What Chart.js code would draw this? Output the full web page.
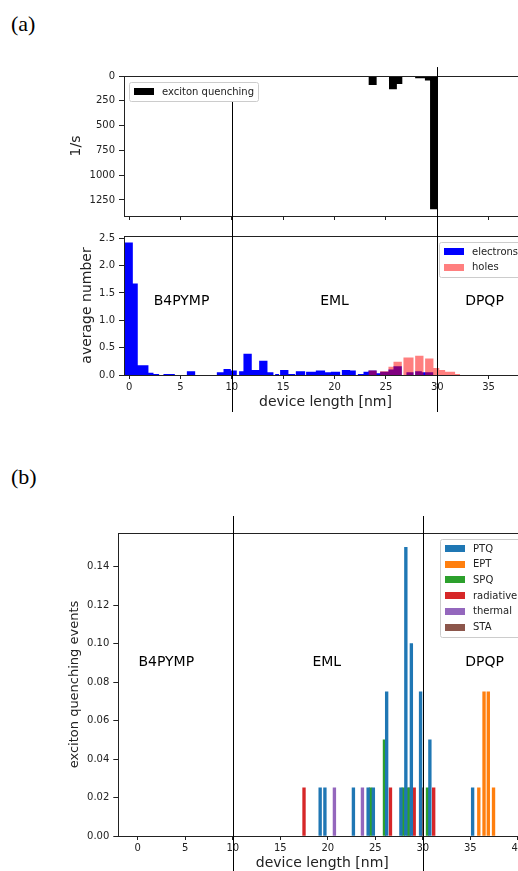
<!DOCTYPE html>
<html>
<head>
<meta charset="utf-8">
<script src="https://cdn.jsdelivr.net/npm/chart.js@4.4.1/dist/chart.umd.min.js"></script>
<style>
    html, body { margin: 0; padding: 0; background: #fff; overflow: hidden; width: 518px; height: 871px; }
    body { position: relative; }
    canvas { position: absolute; left: 0; }
    .panel_label { position: absolute; left: 11px; font: 22px "Liberation Serif", serif; line-height: 1; color: #000; }
</style>
</head>
<body>
<div class="panel_label" style="top: 13px">(a)</div>
<canvas id="quenching_rate" width="540" height="166" style="top: 60px"></canvas>
<canvas id="carrier_number" width="540" height="186" style="top: 226px"></canvas>
<div class="panel_label" style="top: 466px">(b)</div>
<canvas id="quenching_events" width="540" height="357" style="top: 516px"></canvas>
<script>

// layer boundaries and names [nm]
const layer_bounds = [10, 30]
const layer_names = ["B4PYMP", "EML", "DPQP"]

// (a) top: exciton quenching rate per slab [1/s]
const quench_left  = [23.3, 25.3, 26.07, 26.9, 27.85, 28.8, 29.3, 30.2]
const quench_right = [24.1, 26.07, 26.6, 27.85, 28.8, 29.3, 30.05, 31.26]
const quench_rate  = [90, 133, 80, 10, 22, 45, 1345, 6]

// (a) bottom: average number of electrons / holes per slab
const electron_left = [-0.49, 0.36, 0.84, 1.88, 2.37, 3.34, 5.62, 8.54, 9.19, 9.9, 10.71, 11.13, 11.94, 12.66,
    13.47, 14.22, 14.7, 15.51, 16.23, 17.23, 18.18, 19.08, 19.64, 20.71, 21.52, 22.27, 22.82, 23.3, 24.1, 24.44,
    25.25, 25.74, 27.0, 27.85, 28.5, 29.0]
const electron_right = [0.36, 0.84, 1.88, 2.37, 2.92, 4.45, 6.43, 9.19, 9.9, 10.48, 11.13, 11.94, 12.66, 13.47,
    14.05, 14.6, 15.51, 16.16, 17.14, 18.18, 19.08, 19.64, 20.55, 21.52, 22.07, 22.82, 23.3, 24.1, 24.44, 25.25,
    25.74, 26.55, 27.69, 28.5, 29.0, 29.63]
const electron_number = [2.42, 1.67, 0.18, 0.04, 0.02, 0.02, 0.07, 0.05, 0.11, 0.08, 0.07, 0.39, 0.09, 0.26,
    0.05, 0.02, 0.09, 0.02, 0.07, 0.06, 0.08, 0.05, 0.06, 0.09, 0.08, 0.02, 0.06, 0.08, 0.03, 0.06,
    0.10, 0.16, 0.05, 0.07, 0.05, 0.05]

const hole_left   = [23.3, 24.44, 25.25, 25.74, 26.71, 27.85, 28.82, 29.63, 30.2, 30.77, 31.74]
const hole_right  = [24.1, 25.25, 25.74, 26.55, 27.69, 28.66, 29.63, 30.2, 30.77, 31.74, 32.23]
const hole_number = [0.08, 0.07, 0.15, 0.24, 0.32, 0.35, 0.30, 0.13, 0.09, 0.06, 0.02]

// (b): exciton quenching events per position, one pair of arrays per process
const ptq_x = [19.2, 19.7, 22.7, 24.25, 24.8, 26.2, 27.7, 28.22, 28.8, 29.77, 30.75, 35.25]
const ptq_events = [0.025, 0.025, 0.025, 0.025, 0.025, 0.075, 0.025, 0.15, 0.1, 0.075, 0.05, 0.025]
const ept_x = [35.9, 36.45, 36.9, 37.45]
const ept_events = [0.025, 0.075, 0.075, 0.025]
const spq_x = [24.5, 25.97, 27.95, 28.47, 30.5]
const spq_events = [0.025, 0.05, 0.025, 0.025, 0.025]
const radiative_x = [17.5, 26.6, 29.1, 31.15]
const radiative_events = [0.025, 0.025, 0.025, 0.025]
const thermal_x = [20.7, 23.65, 28.6]
const thermal_events = [0.025, 0.025, 0.025]
const sta_x = [29.95]
const sta_events = [0.025]

Chart.defaults.font.family = "DejaVu Sans"
Chart.defaults.color = "#222"

const text_color = "#222"

function step_points(left, right, height)
{
    // histogram outline: each slab holds its value from its left to its right edge
    const points = []
    for (let i = 0; i < left.length; ++i)
    {
        points.push({ x: left[i], y: height[i] })
        points.push({ x: right[i], y: 0 })
    }
    return points
}

function pair_points(xs, ys)
{
    return xs.map((x, i) => ({ x: x, y: ys[i] }))
}

function draw_legend(ctx, chart, side)
{
    const area = chart.chartArea
    const datasets = chart.data.datasets
    const pad = 4, patch_w = 20, patch_h = 7, text_gap = 8, line_h = 11, line_gap = 4.7
    ctx.font = "10px 'DejaVu Sans'"
    const text_w = Math.max(...datasets.map(d => ctx.measureText(d.label).width))
    const box_w = Math.round(pad + patch_w + text_gap + text_w + pad + 1)
    const box_h = Math.round(2 * pad + datasets.length * line_h + (datasets.length - 1) * line_gap)
    const box_x = Math.round(side === "left" ? area.left + 5 : area.right - 5 - box_w)
    const box_y = Math.round(area.top + 6)

    ctx.beginPath()
    ctx.roundRect(box_x + 0.5, box_y + 0.5, box_w, box_h, 2)
    ctx.fillStyle = "rgba(255, 255, 255, 0.8)"
    ctx.fill()
    ctx.lineWidth = 1
    ctx.strokeStyle = "#cccccc"
    ctx.stroke()

    ctx.textAlign = "left"
    ctx.textBaseline = "middle"
    datasets.forEach((d, i) => {
        const cy = box_y + pad + line_h / 2 + i * (line_h + line_gap)
        ctx.fillStyle = d.backgroundColor
        ctx.fillRect(box_x + pad + 1, Math.round(cy - patch_h / 2), patch_w, patch_h)
        ctx.fillStyle = text_color
        ctx.fillText(d.label, box_x + pad + patch_w + text_gap + 1, cy + 0.5)
    })
}

function make_figure_plugin(config)
{
    return {
        id: "figure_" + config.name,
        afterDraw(chart)
        {
            const ctx = chart.ctx
            const area = chart.chartArea
            const x_scale = chart.scales.x
            const y_scale = chart.scales.y
            const snap = v => Math.round(v) + 0.5
            ctx.save()

            // spines on all four sides
            ctx.strokeStyle = text_color
            ctx.lineWidth = 1
            ctx.strokeRect(snap(area.left), snap(area.top),
                Math.round(area.right) - Math.round(area.left), Math.round(area.bottom) - Math.round(area.top))

            // layer names
            if (config.name_x)
            {
                ctx.fillStyle = "#000"
                ctx.font = "14px 'DejaVu Sans'"
                ctx.textAlign = "center"
                ctx.textBaseline = "middle"
                layer_names.forEach((name, i) => {
                    ctx.fillText(name, x_scale.getPixelForValue(config.name_x[i]), y_scale.getPixelForValue(config.name_y))
                })
            }

            // layer boundaries, running past the axes
            ctx.strokeStyle = "#000"
            layer_bounds.forEach((bound, i) => {
                const px = snap(x_scale.getPixelForValue(bound))
                const top = config.line_from ? y_scale.getPixelForValue(config.line_from[i]) : 0
                ctx.beginPath()
                ctx.moveTo(px, top)
                ctx.lineTo(px, chart.height)
                ctx.stroke()
            })

            draw_legend(ctx, chart, config.legend_side)
            ctx.restore()
        }
    }
}

function x_axis(min, max, height, show_labels)
{
    return {
        type: "linear",
        min: min,
        max: max,
        offset: false,
        afterFit: scale => { scale.height = height },
        border: { display: false },
        grid: { drawOnChartArea: false, drawTicks: true, tickLength: 4, color: text_color, offset: false },
        ticks: {
            display: show_labels, stepSize: 5, includeBounds: false, padding: 2,
            color: text_color, font: { size: 10 }, maxRotation: 0, autoSkip: false,
        },
        title: {
            display: show_labels, text: "device length [nm]", color: text_color,
            font: { size: 14 }, padding: { top: 0, bottom: 1 },
        },
    }
}

function y_axis(min, max, step, decimals, width, title, title_size, title_pad, reverse)
{
    return {
        min: min,
        max: max,
        reverse: reverse,
        afterFit: scale => { scale.width = width },
        border: { display: false },
        grid: { drawOnChartArea: false, drawTicks: true, tickLength: 5, color: text_color },
        ticks: {
            stepSize: step, includeBounds: false, padding: 4, color: text_color, font: { size: 10 },
            callback: v => v.toFixed(decimals),
        },
        title: {
            display: true, text: title, color: text_color,
            font: { size: title_size }, padding: { top: title_pad, bottom: 0 },
        },
    }
}

const common_plugins = {
    legend: { display: false },
    tooltip: { enabled: false },
}

// (a) top: quenching rate, drawn downwards
new Chart(document.getElementById("quenching_rate"), {
    type: "line",
    data: {
        datasets: [
            {
                label: "exciton quenching",
                data: step_points(quench_left, quench_right, quench_rate),
                stepped: true,
                fill: "origin",
                backgroundColor: "#000000",
                borderColor: "transparent",
                borderWidth: 0,
                pointRadius: 0,
            },
        ]
    },
    options: {
        responsive: false,
        animation: false,
        layout: { padding: { top: 16, right: 13, left: 0, bottom: 0 } },
        scales: {
            x: x_axis(-0.5, 38.74, 9, false),
            y: y_axis(0, 1412, 250, 0, 124, "1/s", 14, 68, true),
        },
        plugins: common_plugins,
    },
    plugins: [make_figure_plugin({ name: "rate", legend_side: "left", line_from: [260, -90] })],
})

// (a) bottom: average carrier numbers
new Chart(document.getElementById("carrier_number"), {
    type: "line",
    data: {
        datasets: [
            {
                label: "electrons",
                data: step_points(electron_left, electron_right, electron_number),
                stepped: true,
                fill: "origin",
                backgroundColor: "#0000ff",
                borderColor: "transparent",
                borderWidth: 0,
                pointRadius: 0,
                order: 2,
            },
            {
                label: "holes",
                data: step_points(hole_left, hole_right, hole_number),
                stepped: true,
                fill: "origin",
                backgroundColor: "rgba(255, 0, 0, 0.5)",
                borderColor: "transparent",
                borderWidth: 0,
                pointRadius: 0,
                order: 1,
            },
        ]
    },
    options: {
        responsive: false,
        animation: false,
        layout: { padding: { top: 8, right: 13, left: 0, bottom: 0 } },
        scales: {
            x: x_axis(-0.5, 38.74, 37, true),
            y: y_axis(0, 2.54, 0.5, 1, 124, "average number", 14, 79, false),
        },
        plugins: common_plugins,
    },
    plugins: [make_figure_plugin({ name: "number", legend_side: "right", name_x: [5.1, 20, 34.6], name_y: 1.34 })],
})

// (b): quenching events by process
const event_datasets = [
    ["PTQ", "#1f77b4", ptq_x, ptq_events],
    ["EPT", "#ff7f0e", ept_x, ept_events],
    ["SPQ", "#2ca02c", spq_x, spq_events],
    ["radiative", "#d62728", radiative_x, radiative_events],
    ["thermal", "#9467bd", thermal_x, thermal_events],
    ["STA", "#8c564b", sta_x, sta_events],
].map(([label, color, xs, ys]) => ({
    label: label,
    data: pair_points(xs, ys),
    backgroundColor: color,
    grouped: false,
    barThickness: 2.7,
    borderWidth: 0,
}))

new Chart(document.getElementById("quenching_events"), {
    type: "bar",
    data: { datasets: event_datasets },
    options: {
        responsive: false,
        animation: false,
        layout: { padding: { top: 17, right: 13.7, left: 0, bottom: 0 } },
        scales: {
            x: x_axis(-2.05, 40.9, 37, true),
            y: y_axis(0, 0.1575, 0.02, 2, 118.3, "exciton quenching events", 13, 67, false),
        },
        plugins: common_plugins,
    },
    plugins: [make_figure_plugin({ name: "events", legend_side: "right", name_x: [3, 19.9, 36.5], name_y: 0.09 })],
})
</script>
</body>
</html>
